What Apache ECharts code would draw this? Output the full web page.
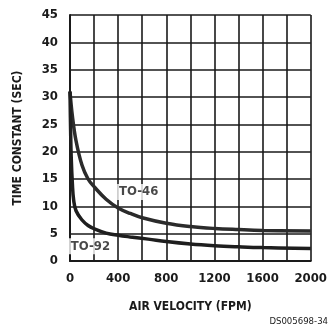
<!DOCTYPE html>
<html><head><meta charset="utf-8">
<script src="https://cdn.jsdelivr.net/npm/echarts@6/dist/echarts.min.js"></script>
<style>html,body{margin:0;padding:0;background:#fff}#c{width:330px;height:335px}</style>
</head><body><div id="c"></div>
<script>
// Data (air velocity in FPM, time constant in seconds)
const to46X = [0, 20, 50, 100, 150, 200, 300, 400, 500, 600, 800, 1000, 1200, 1400, 1600, 2000];
const to46Y = [31, 26.5, 22, 17.5, 15, 13.6, 11.3, 9.7, 8.7, 7.9, 6.9, 6.3, 5.95, 5.75, 5.6, 5.5];
const to92X = [0, 5, 10, 20, 30, 50, 100, 150, 200, 300, 400, 500, 650, 800, 1000, 1200, 1400, 1600, 2000];
const to92Y = [31, 24, 19, 14, 11.2, 9.2, 7.5, 6.5, 5.9, 5.1, 4.7, 4.4, 4.0, 3.55, 3.1, 2.8, 2.6, 2.45, 2.3];
const xTickLabels = ['0', '400', '800', '1200', '1600', '2000'];
const yTickLabels = ['0', '5', '10', '15', '20', '25', '30', '35', '40', '45'];
const seriesNames = ['TO-46', 'TO-92'];
const labelTO46 = [571, 12.6];
const labelTO92 = [170, 2.7];

const FONT = '"DejaVu Sans Condensed","Liberation Sans Narrow","Liberation Sans",sans-serif';
const WEIGHT = 'bold';
const INK = '#1a1a1a';
const pairs = (xs, ys) => xs.map((x, i) => [x, ys[i]]);

const chart = echarts.init(document.getElementById('c'), null, {renderer: 'canvas'});
const lbl = (pt, text) => ({
  type: 'scatter', symbolSize: 0, silent: true, z: 5,
  data: [pt],
  label: {show: true, position: 'inside', formatter: text, color: INK,
    fontFamily: FONT, fontWeight: WEIGHT, fontSize: 13,
    backgroundColor: '#fff', padding: [2, 2, 1, 2]}
});
chart.setOption({
  animation: false,
  grid: {left: 70, right: 15, top: 15, bottom: 74},
  xAxis: {
    type: 'value', min: 0, max: 2000, interval: 200,
    axisLine: {show: true, lineStyle: {color: INK, width: 2}},
    axisTick: {show: false},
    splitLine: {show: true, lineStyle: {color: INK, width: 1.6}},
    axisLabel: {color: INK, fontFamily: FONT, fontWeight: WEIGHT, fontSize: 13, margin: 11,
      formatter: v => xTickLabels.includes(String(v)) ? String(v) : ''},
    name: 'AIR VELOCITY (FPM)', nameLocation: 'middle', nameGap: 40,
    nameTextStyle: {color: INK, fontFamily: FONT, fontWeight: WEIGHT, fontSize: 12}
  },
  yAxis: {
    type: 'value', min: 0, max: 45, interval: 5,
    axisLine: {show: true, lineStyle: {color: INK, width: 2}},
    axisTick: {show: false},
    splitLine: {show: true, lineStyle: {color: INK, width: 1.6}},
    axisLabel: {color: INK, fontFamily: FONT, fontWeight: WEIGHT, fontSize: 13, margin: 12,
      formatter: v => yTickLabels.includes(String(v)) ? String(v) : ''},
    name: 'TIME CONSTANT (SEC)', nameLocation: 'middle', nameGap: 46, nameRotate: 90,
    nameTextStyle: {color: INK, fontFamily: FONT, fontWeight: WEIGHT, fontSize: 12}
  },
  graphic: [{type: 'text', right: 2, bottom: 8,
    style: {text: 'DS005698-34', font: '9.5px "DejaVu Sans Condensed","Liberation Sans Narrow",sans-serif', fill: INK}}],
  series: [
    {name: seriesNames[0], type: 'line', data: pairs(to46X, to46Y), smooth: 0.4,
      showSymbol: false, lineStyle: {color: '#2b2b2b', width: 3.5}, z: 3},
    {name: seriesNames[1], type: 'line', data: pairs(to92X, to92Y), smooth: 0.4,
      showSymbol: false, lineStyle: {color: '#1e1e1e', width: 3.5}, z: 3},
    lbl(labelTO46, seriesNames[0]),
    lbl(labelTO92, seriesNames[1])
  ]
});
</script></body></html>
